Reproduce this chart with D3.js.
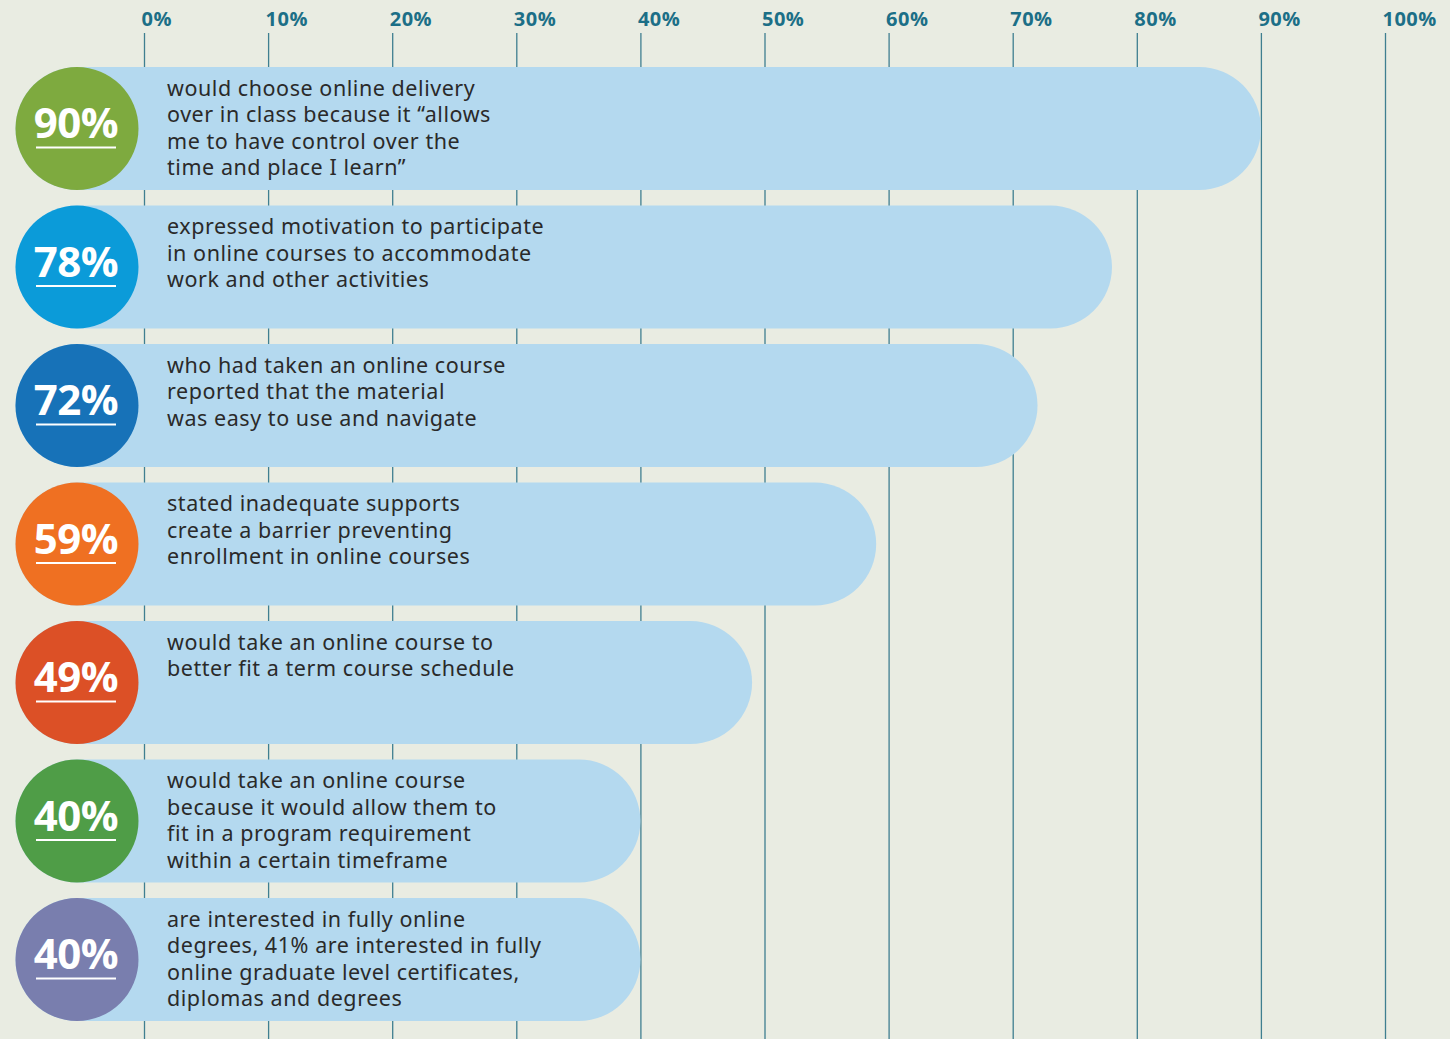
<!DOCTYPE html>
<html><head><meta charset="utf-8">
<script src="https://cdn.jsdelivr.net/npm/d3@7"></script>
<style>
html,body{margin:0;padding:0;background:#e9ece2;}
svg{display:block;}
</style></head>
<body>
<svg id="chart" width="1450" height="1039"></svg>
<script>
const values = [90, 78, 72, 59, 49, 40, 40];
const labels = ["90%", "78%", "72%", "59%", "49%", "40%", "40%"];
const colors = ["#7eaa3f", "#0b9bd9", "#1772b8", "#ef7022", "#dc5026", "#4f9d47", "#797eae"];
const descriptions = [
  ["would choose online delivery", "over in class because it \u201callows", "me to have control over the", "time and place I learn\u201d"],
  ["expressed motivation to participate", "in online courses to accommodate", "work and other activities"],
  ["who had taken an online course", "reported that the material", "was easy to use and navigate"],
  ["stated inadequate supports", "create a barrier preventing", "enrollment in online courses"],
  ["would take an online course to", "better fit a term course schedule"],
  ["would take an online course", "because it would allow them to", "fit in a program requirement", "within a certain timeframe"],
  ["are interested in fully online", "degrees, 41% are interested in fully", "online graduate level certificates,", "diplomas and degrees"]
];
const ticks = [0, 10, 20, 30, 40, 50, 60, 70, 80, 90, 100];

const svg = d3.select("#chart");
const W = 1450, H = 1039;
svg.append("rect").attr("width", W).attr("height", H).attr("fill", "#e9ece2");

const x = d3.scaleLinear().domain([0, 100]).range([144, 1385]);
const y = d3.scaleBand().domain(d3.range(values.length)).range([67, 1021]).paddingInner(0.112).paddingOuter(0);
const bw = y.bandwidth();
const r = bw / 2;
const cx = 77;

// axis + gridlines
const axis = d3.axisTop(x).tickValues(ticks).tickFormat(d => d + "%").tickSizeInner(-(H - 33)).tickSizeOuter(0);
const ag = svg.append("g").attr("transform", "translate(0,33)").call(axis);
ag.select(".domain").remove();
ag.selectAll(".tick line").attr("stroke", "#3f7f90").attr("stroke-width", 1.3);
ag.selectAll(".tick text")
  .attr("text-anchor", "start").attr("dx", -3).attr("y", -7)
  .attr("fill", "#1c6f87")
  .style("font-family", "'Open Sans', sans-serif").style("font-weight", 700).style("font-size", "20px")
  .style("letter-spacing", "0.5px");

const rows = svg.append("g").selectAll("g").data(values).join("g")
  .attr("transform", (d, i) => `translate(0,${y(i)})`);

rows.append("rect")
  .attr("x", cx - r).attr("y", 0)
  .attr("width", d => x(d) - (cx - r)).attr("height", bw)
  .attr("rx", r).attr("ry", r)
  .attr("fill", "#b4d9ef");

rows.append("circle").attr("cx", cx).attr("cy", r).attr("r", r)
  .attr("fill", (d, i) => colors[i]);

rows.append("text")
  .attr("x", cx - 1).attr("y", r + 10)
  .attr("text-anchor", "middle")
  .attr("fill", "#fff")
  .style("font-family", "'Open Sans', sans-serif").style("font-weight", 700).style("font-size", "42px")
  .style("letter-spacing", "-0.5px")
  .text((d, i) => labels[i]);

rows.append("rect")
  .attr("x", cx - 41).attr("y", r + 18).attr("width", 80).attr("height", 2)
  .attr("fill", "#fff");

rows.each(function(d, i) {
  const t = d3.select(this).append("text")
    .attr("fill", "#2a2a2a")
    .style("font-family", "'Noto Sans', sans-serif").style("font-size", "21.5px")
    .style("letter-spacing", "0.55px");
  t.selectAll("tspan").data(descriptions[i]).join("tspan")
    .attr("x", 167).attr("y", (l, j) => 28.5 + j * 26.5)
    .text(l => l);
});
</script>
</body></html>
